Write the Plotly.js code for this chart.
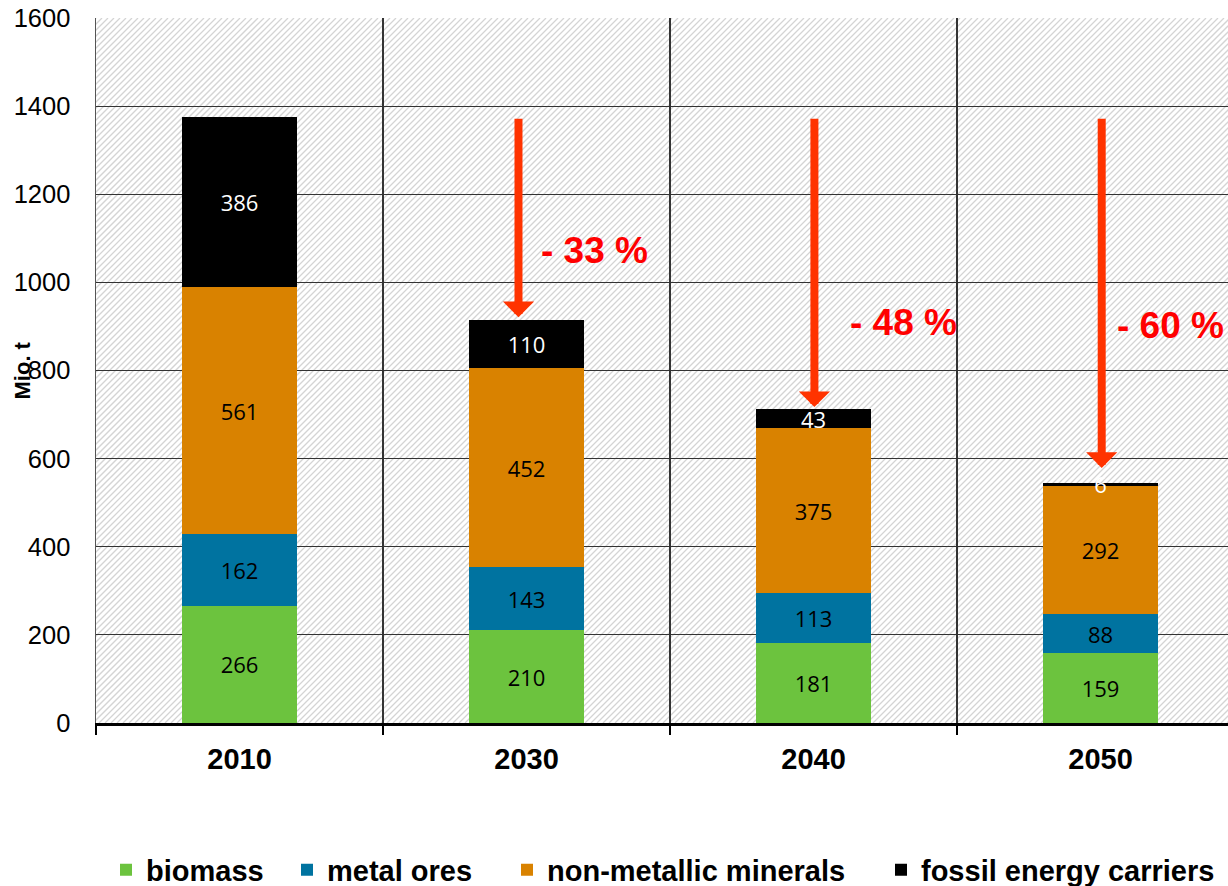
<!DOCTYPE html>
<html>
<head>
<meta charset="utf-8">
<script src="https://cdn.plot.ly/plotly-3.0.1.min.js"></script>
<style>
  html, body { margin: 0; padding: 0; background: #ffffff; }
  #chart { width: 1228px; height: 886px; }
</style>
</head>
<body>
<div id="chart"></div>
<script>
// ---- data (Mio. t) ----
const years = ['2010', '2030', '2040', '2050'];
const biomass = [266, 210, 181, 159];
const metalOres = [162, 143, 113, 88];
const nonMetallic = [561, 452, 375, 292];
const fossil = [386, 110, 43, 6];
// arrow tips (Mio. t) for 2030, 2040, 2050
const arrowTips = [921, 717, 579];

// ---- derived ----
const totals = years.map((_, i) => biomass[i] + metalOres[i] + nonMetallic[i] + fossil[i]);
const reductions = totals.slice(1).map(t => Math.round((1 - t / totals[0]) * 100));

// ---- style ----
const colors = { biomass: '#6cc33e', metal: '#0073a0', nonmet: '#d98200', fossil: '#000000' };
const labelFont = { family: 'Open Sans, Noto Sans, sans-serif', size: 22 };
const arialBold = { family: 'Liberation Sans, Arial, sans-serif', weight: 'bold' };

function barTrace(name, values, color, textColor, legendId) {
  return {
    type: 'bar', name: name, x: years, y: values, legend: legendId,
    marker: { color: color, line: { width: 0 } },
    text: values.map(String), textposition: 'inside', insidetextanchor: 'middle',
    constraintext: 'none', textangle: 0,
    textfont: Object.assign({}, labelFont, { color: textColor }),
    hoverinfo: 'skip'
  };
}

const traces = [
  barTrace('biomass', biomass, colors.biomass, '#000000', 'legend'),
  barTrace('metal ores', metalOres, colors.metal, '#000000', 'legend2'),
  barTrace('non-metallic minerals', nonMetallic, colors.nonmet, '#000000', 'legend3'),
  barTrace('fossil energy carriers', fossil, colors.fossil, '#ffffff', 'legend4')
];

// plot area geometry (pixels)
const W = 1228, H = 886, M = { l: 96, r: 0, t: 18, b: 163, autoexpand: false };
const pw = W - M.l - M.r, ph = H - M.t - M.b;

// hatched plot background as an svg image
const step = 6;
let lines = '';
for (let k = -ph; k < pw + ph; k += step) {
  lines += `M${k},${ph}L${k + ph},0`;
}
const svg = `<svg xmlns="http://www.w3.org/2000/svg" width="${pw}" height="${ph}">` +
  `<rect width="100%" height="100%" fill="#ffffff"/>` +
  `<path d="${lines}" stroke="#d4d4d4" stroke-width="1.3" fill="none"/></svg>`;
const bgSource = 'data:image/svg+xml;base64,' + btoa(svg);

// arrows and percent labels
const arrowDx = [-0.028, 0.003, 0.004];
const pctPos = [[1.237, 1073], [2.312, 910], [3.244, 903]];
const annotations = [];
for (let i = 1; i < years.length; i++) {
  annotations.push({
    x: i + arrowDx[i - 1], y: arrowTips[i - 1], xref: 'x', yref: 'y',
    ax: i + arrowDx[i - 1], ay: totals[0], axref: 'x', ayref: 'y',
    text: '', showarrow: true, arrowhead: 1, arrowsize: 0.65, arrowwidth: 8,
    arrowcolor: '#ff3300', standoff: 0, startstandoff: 0
  });
  annotations.push({
    x: pctPos[i - 1][0], y: pctPos[i - 1][1], xref: 'x', yref: 'y',
    text: '- ' + reductions[i - 1] + ' %', showarrow: false,
    font: Object.assign({}, arialBold, { size: 37, color: '#ff0000' }),
    xanchor: 'center', yanchor: 'middle'
  });
}
annotations.push({
  xref: 'paper', yref: 'paper', x: (22 - M.l) / pw, y: 0.5,
  text: 'Mio. t', textangle: -90, showarrow: false,
  font: Object.assign({}, arialBold, { size: 22, color: '#000000' }),
  xanchor: 'center', yanchor: 'middle'
});

function legendAt(px) {
  return {
    orientation: 'h', x: (px - M.l) / pw, xanchor: 'left', y: (723 - 870) / ph, yanchor: 'middle',
    font: Object.assign({}, arialBold, { size: 29, color: '#000000' }),
    bgcolor: 'rgba(0,0,0,0)', borderwidth: 0
  };
}

const layout = {
  width: W, height: H,
  margin: M,
  paper_bgcolor: '#ffffff', plot_bgcolor: '#ffffff',
  barmode: 'stack', bargap: 0.6,
  showlegend: true,
  legend: legendAt(106),
  legend2: legendAt(287),
  legend3: legendAt(507),
  legend4: legendAt(881),
  xaxis: {
    type: 'category', range: [-0.5, 3.444], tickson: 'boundaries', automargin: false,
    ticks: 'outside', ticklen: 9, tickwidth: 2.5, tickcolor: '#000000',
    showgrid: true, gridcolor: '#333333', gridwidth: 1.2,
    showline: true, linecolor: '#000000', linewidth: 2.5,
    tickfont: Object.assign({}, arialBold, { size: 29, color: '#000000' }),
    ticklabelstandoff: 9, fixedrange: true
  },
  yaxis: {
    range: [0, 1600], dtick: 200, tick0: 0, automargin: false,
    showgrid: true, gridcolor: '#333333', gridwidth: 1.2, zeroline: false,
    showline: true, linecolor: '#555555', linewidth: 1.5,
    ticks: '', ticklabelstandoff: 19,
    tickfont: { family: 'Liberation Sans, Arial, sans-serif', size: 25.5, color: '#000000' },
    fixedrange: true
  },
  images: [{
    source: bgSource, xref: 'paper', yref: 'paper', x: 0, y: 1, sizex: 1, sizey: 1,
    xanchor: 'left', yanchor: 'top', sizing: 'stretch', layer: 'below'
  }],
  annotations: annotations
};

Plotly.newPlot('chart', traces, layout, { displayModeBar: false, staticPlot: true });
</script>
</body>
</html>
